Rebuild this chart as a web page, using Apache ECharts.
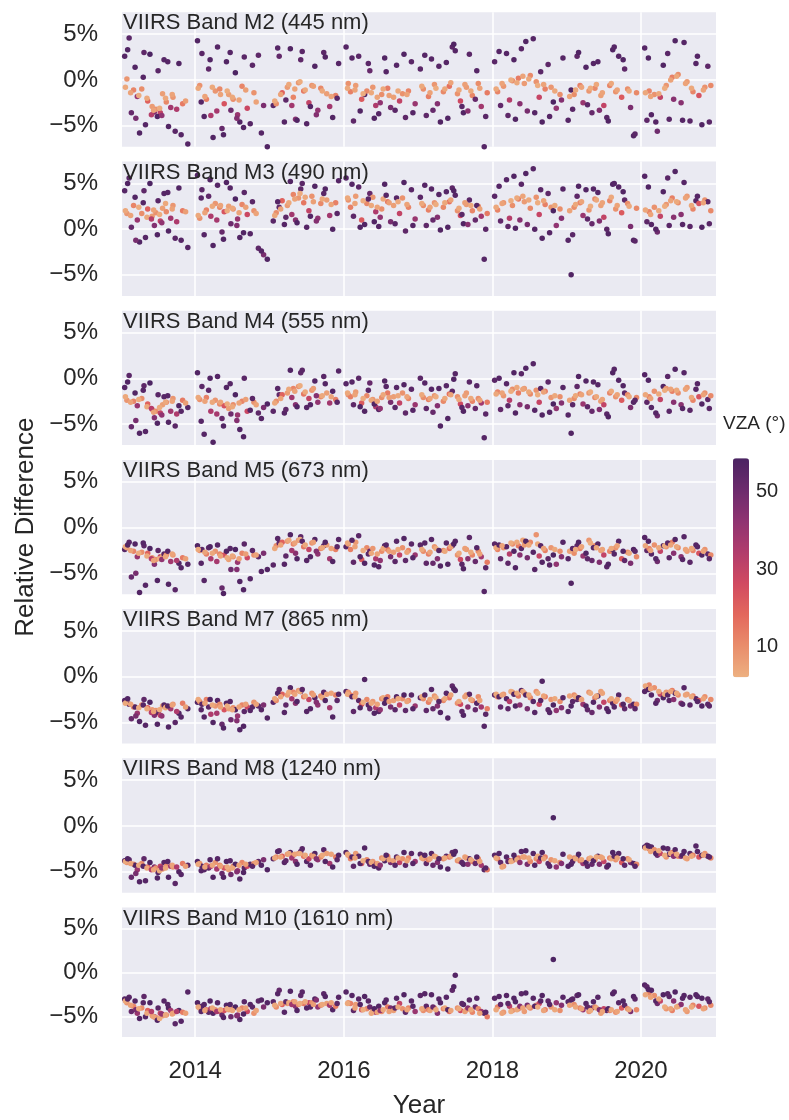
<!DOCTYPE html>
<html><head><meta charset="utf-8">
<script src="https://cdn.jsdelivr.net/npm/echarts@6/dist/echarts.min.js"></script>
<style>html,body{margin:0;padding:0;background:#fff}#c{width:789px;height:1120px}</style>
</head><body><div id="c"></div>
<script>
// ---- data (decimal year, VZA in degrees, relative difference in %) ----
// first set of observations
const dateA = [
 2013.05,2013.08,2013.11,2013.14,2013.17,2013.19,2013.22,2013.25,2013.28,2013.31,2013.33,2013.36,2013.39,2013.42,2013.45,2013.47,2013.50,2013.53,2013.56,2013.58,2013.61,2013.64,2013.67,2013.70,2013.73,2013.78,2013.83,2013.90,
 2014.03,2014.06,2014.09,2014.12,2014.15,2014.18,2014.21,2014.24,2014.27,2014.30,2014.33,2014.36,2014.39,2014.42,2014.45,2014.48,2014.51,2014.54,2014.57,2014.60,2014.63,2014.66,2014.70,2014.74,2014.79,2014.85,2014.92,2014.97,
 2015.05,2015.09,2015.13,2015.17,2015.20,2015.24,2015.28,2015.32,2015.35,2015.39,2015.42,2015.46,2015.50,2015.53,2015.57,2015.61,2015.65,2015.69,2015.73,2015.77,2015.81,2015.85,2015.89,2015.93,
 2016.03,2016.06,2016.09,2016.13,2016.16,2016.20,2016.24,2016.28,2016.31,2016.35,2016.39,2016.43,2016.47,2016.51,2016.55,2016.59,2016.63,2016.67,2016.71,2016.75,2016.79,2016.83,2016.87,2016.91,2016.96,
 2017.03,2017.07,2017.11,2017.14,2017.18,2017.22,2017.26,2017.30,2017.34,2017.38,2017.42,2017.46,2017.50,2017.53,2017.57,2017.61,2017.65,2017.69,2017.73,2017.77,2017.81,2017.85,2017.89,2017.93,
 2018.03,2018.07,2018.11,2018.15,2018.19,2018.23,2018.27,2018.31,2018.35,2018.39,2018.43,2018.47,2018.51,2018.55,2018.59,2018.63,2018.67,2018.71,2018.75,2018.79,2018.82,2018.86,2018.91,2018.95,
 2019.02,2019.06,2019.10,2019.14,2019.18,2019.22,2019.26,2019.30,2019.34,2019.38,2019.42,2019.46,2019.50,2019.54,2019.58,2019.62,2019.66,2019.70,2019.74,2019.78,2019.82,2019.86,2019.90,2019.94,
 2020.05,2020.08,2020.11,2020.14,2020.18,2020.22,2020.26,2020.30,2020.34,2020.38,2020.42,2020.46,2020.50,2020.54,2020.58,2020.62,2020.66,2020.70,2020.74,2020.78,2020.82,2020.86,2020.90,2020.94
];
const vzaA = [
 56,8,55,52,12,57,40,57,10,54,56,20,58,7,45,9,55,30,6,56,11,57,38,8,55,57,14,56,
 57,9,55,56,13,54,35,57,8,56,11,52,24,57,6,50,10,58,40,57,12,55,28,56,9,54,47,57,
 55,10,53,20,56,7,57,12,44,8,54,15,56,30,9,57,42,11,55,6,38,57,13,56,
 56,9,13,54,7,55,22,57,11,52,8,35,56,10,57,14,48,6,56,30,9,54,12,55,40,
 55,10,54,13,56,8,45,57,11,56,16,54,56,9,27,57,7,55,12,52,10,38,56,14,
 55,12,53,8,56,33,10,57,14,55,7,48,11,56,9,29,57,13,54,8,58,42,10,56,
 56,57,10,54,13,40,57,8,52,11,56,6,30,55,12,57,9,56,22,54,10,47,57,11,
 56,54,12,56,9,50,30,57,8,55,13,57,10,44,56,7,55,12,56,24,57,9,54,11
];
const m2A = [
 2.6,0.1,4.6,-3.6,-1.1,1.4,-1.8,-5.8,-1.0,3.0,-4.9,-2.3,2.8,-2.9,-3.5,-3.2,1.0,-3.6,-1.5,2.2,-2.4,-5.1,-3.0,-1.9,-5.6,1.8,-2.6,-7.0,
 4.3,-0.6,2.9,-4.0,-2.1,1.2,-3.9,-6.3,-1.2,3.6,-1.0,-5.3,-2.6,2.0,-1.6,-3.3,-2.1,0.8,-3.8,-4.6,-0.7,2.5,-3.1,-4.8,-1.4,2.7,-2.8,-7.3,
 -2.8,-2.6,2.6,-1.4,-4.6,-0.8,3.4,-1.9,-4.3,-0.3,2.2,-1.2,-4.8,-2.5,-0.6,1.5,-3.3,-0.9,3.0,-1.5,-2.9,-4.1,-1.7,1.8,
 3.6,-0.4,-1.3,-4.5,-0.6,2.6,-2.1,-1.6,-1.2,1.0,-0.8,-2.8,-3.7,-1.6,2.4,-0.9,-3.0,-1.9,1.6,-2.3,-1.5,-4.1,-1.2,2.0,-2.6,
 1.2,-1.0,-3.9,-1.8,2.3,-0.5,-2.6,-4.6,-1.3,1.9,-0.7,3.6,3.2,-1.5,-2.3,-3.6,-0.8,2.8,-1.7,-2.1,-0.4,-2.9,-7.3,-1.4,
 2.0,-1.3,-2.8,-0.7,2.9,-2.2,-0.1,-4.3,0.2,3.4,-0.4,-3.4,0.5,4.5,-0.2,-1.9,-4.6,-1.0,1.7,-0.8,-2.4,-3.1,-1.6,2.4,
 -4.4,-1.1,-1.6,2.6,-0.6,-2.5,1.4,-1.2,-3.6,-0.9,2.0,-1.7,-2.8,-4.1,-0.6,3.3,-1.3,2.6,-1.9,1.2,-1.0,-3.0,-6.1,-1.4,
 3.5,-4.4,-1.2,-3.8,-1.6,-5.6,-1.9,1.6,-0.6,-4.3,0.3,4.3,0.6,-2.5,4.1,-0.2,-4.5,-1.3,1.8,-1.7,-4.9,-0.8,1.5,-0.6
];
const m3A = [
 4.2,1.7,5.6,0.2,2.6,3.5,1.0,-1.4,1.7,4.2,-0.9,2.2,5.0,1.4,0.4,1.8,3.1,0.9,2.3,3.9,1.9,-0.2,1.2,2.6,-1.0,4.5,2.0,-2.0,
 5.9,1.2,4.3,-0.6,2.1,3.6,1.4,-1.8,2.8,4.8,2.4,-0.3,1.9,5.1,2.5,0.6,2.2,3.3,1.1,-0.9,2.7,4.0,1.6,-0.5,2.0,-2.1,-2.8,-3.3,
 0.9,1.8,2.4,3.1,0.5,2.6,5.2,3.8,1.0,3.4,4.4,2.9,0.2,2.0,3.6,4.7,1.2,2.8,3.9,3.2,1.5,0.0,2.9,5.3,
 5.6,3.2,2.4,1.4,3.6,4.6,1.0,0.5,2.8,3.9,3.5,1.9,0.3,2.2,4.9,3.0,0.8,2.6,3.4,1.7,3.4,-0.2,2.4,4.3,1.1,
 3.5,2.6,0.4,2.1,4.4,2.9,1.3,-0.1,2.4,4.1,3.0,4.5,3.7,2.0,1.5,0.6,2.7,3.2,2.0,1.0,2.5,1.4,-3.3,1.7,
 3.6,2.1,0.9,2.9,5.4,1.2,2.6,0.1,3.3,4.9,3.0,0.5,2.3,6.6,3.5,1.6,-1.0,2.7,3.9,2.4,2.0,0.4,2.2,4.4,
 -1.2,-5.0,2.4,3.6,2.9,1.5,4.3,2.1,0.6,3.3,4.0,2.6,1.3,0.0,3.1,4.9,2.2,4.6,1.8,3.2,2.8,0.3,-1.2,2.3,
 5.8,0.8,1.9,0.5,2.4,-0.3,1.4,4.1,2.7,0.4,3.4,6.3,2.9,1.6,5.1,3.6,0.3,2.2,3.1,2.8,0.2,3.2,3.0,2.0
];
const m4A = [
 -1.0,-2.4,0.3,-5.3,-2.5,-1.6,-3.0,-6.0,-2.2,-0.8,-5.8,-2.8,-0.5,-3.4,-4.3,-3.6,-1.8,-3.8,-2.9,-2.0,-2.6,-4.8,-3.6,-2.2,-5.2,-3.0,-2.4,-3.2,
 0.6,-2.3,-0.9,-6.1,-2.1,-1.3,-3.6,-7.0,-2.4,0.2,-2.8,-4.4,-3.0,-1.0,-3.3,-3.9,-2.9,-1.8,-4.0,-5.6,-2.5,0.0,-3.6,-3.5,-2.6,-3.8,-3.2,-2.8,
 -3.6,-2.5,-1.8,-1.8,-3.8,-1.6,0.9,-1.1,-2.9,-0.9,0.6,-1.7,-3.2,-2.2,-1.3,-0.3,-2.6,-2.0,0.2,-1.6,-2.7,-1.4,-2.3,0.8,
 -0.6,-1.8,-2.0,-2.9,-1.5,0.0,-2.7,-3.6,-1.9,-0.5,-2.3,-3.1,-3.4,-2.1,-0.3,-1.6,-2.6,-2.0,-1.0,-2.7,-1.6,-3.8,-2.2,-1.2,-2.9,
 0.0,-2.1,-3.3,-2.3,-1.2,-1.9,-3.0,-5.2,-2.5,-0.8,-1.7,-1.4,0.5,-2.0,-2.8,-3.6,-1.6,-0.4,-2.5,-3.3,-2.2,-2.7,-6.5,-2.6,
 -0.2,-1.5,-3.4,-1.9,-0.6,-2.4,-1.2,-3.8,-1.6,0.5,-1.1,-3.1,-1.7,1.6,-1.3,-2.6,-4.0,-1.4,-0.4,-2.1,-2.8,-3.3,-2.0,-1.0,
 -4.0,-6.0,-2.2,-0.9,-1.7,-2.8,-0.3,-1.6,-3.6,-2.1,-0.7,-2.5,-2.9,-3.9,-1.6,0.6,-2.0,-0.2,-2.4,-1.6,-1.8,-3.2,-2.6,-2.1,
 0.4,-2.6,-2.0,-3.2,-1.4,-4.1,-2.3,-0.9,-1.1,-3.6,-1.4,1.0,-1.6,-2.9,0.6,-1.0,-3.5,-2.4,-1.2,-2.0,-2.8,-1.6,-2.3,-1.9
];
const m5A = [
 -2.4,-2.2,-1.6,-5.4,-2.6,-1.8,-3.2,-7.1,-2.7,-2.0,-6.3,-2.8,-2.3,-3.3,-4.0,-3.5,-2.5,-3.2,-3.1,-2.9,-3.0,-6.2,-3.7,-3.0,-6.8,-3.9,-3.3,-4.0,
 -2.0,-2.5,-2.4,-5.8,-2.9,-2.2,-3.4,-7.8,-2.6,-1.9,-2.9,-6.6,-3.0,-2.6,-3.5,-4.6,-3.2,-2.4,-3.8,-5.9,-2.8,-1.8,-3.3,-5.6,-3.0,-3.2,-2.8,-4.6,
 -4.1,-2.0,-1.7,-1.6,-4.0,-1.5,-0.8,-1.8,-2.8,-1.4,-1.0,-2.1,-3.6,-2.4,-1.7,-1.3,-2.9,-2.3,-2.0,-1.9,-3.4,-3.7,-2.4,-1.3,
 -2.1,-1.8,-2.4,-3.8,-1.6,-0.9,-3.5,-3.9,-2.2,-2.6,-2.3,-3.4,-4.3,-2.6,-2.0,-2.4,-3.2,-2.7,-1.5,-3.0,-2.2,-3.6,-2.5,-1.8,-3.0,
 -1.9,-2.6,-3.9,-2.9,-1.3,-2.1,-3.4,-4.2,-2.5,-1.7,-2.3,-2.0,-1.5,-3.0,-3.5,-4.5,-2.4,-1.1,-3.0,-3.7,-2.6,-3.2,-7.0,-3.8,
 -1.8,-2.4,-3.4,-2.2,-2.1,-2.9,-1.8,-4.4,-2.0,-2.3,-1.9,-3.3,-1.6,-2.7,-0.8,-3.1,-3.8,-2.5,-3.4,-2.2,-3.0,-4.0,-2.6,-1.6,
 -3.4,-6.1,-2.8,-2.0,-2.3,-3.1,-2.8,-1.4,-3.6,-2.0,-1.8,-2.5,-3.0,-4.3,-2.6,-2.4,-2.2,-1.5,-3.4,-3.6,-2.7,-3.9,-2.4,-3.2,
 -1.1,-2.5,-2.3,-2.9,-1.9,-3.7,-2.6,-2.0,-2.1,-3.3,-1.6,-1.3,-2.2,-3.2,-1.0,-2.6,-3.8,-2.5,-1.9,-2.8,-3.0,-2.4,-2.9,-3.0
];
const m7A = [
 -2.6,-2.8,-3.0,-4.6,-3.3,-3.3,-4.0,-4.9,-3.1,-2.5,-5.3,-3.4,-2.8,-3.6,-4.2,-3.7,-3.9,-4.2,-3.2,-3.1,-3.3,-5.5,-3.5,-3.0,-5.0,-4.0,-2.9,-3.5,
 -2.8,-2.7,-3.0,-4.4,-2.5,-3.3,-4.1,-5.0,-3.2,-2.6,-3.0,-5.2,-3.6,-2.9,-3.5,-4.7,-3.4,-3.6,-4.3,-5.8,-3.1,-3.8,-3.3,-3.7,-2.8,-3.2,-3.1,-4.5,
 -2.8,-2.6,-1.4,-1.9,-3.9,-2.0,-1.2,-1.7,-2.9,-1.5,-1.6,-2.2,-3.8,-2.5,-1.8,-2.3,-3.1,-2.1,-1.7,-1.9,-3.4,-4.4,-2.0,-1.9,
 -1.6,-1.7,-2.0,-3.8,-1.8,-2.6,-3.0,-0.3,-2.5,-3.5,-2.7,-3.4,-3.8,-2.4,-2.9,-2.2,-3.3,-2.6,-2.2,-3.1,-2.4,-3.7,-2.6,-2.0,-3.2,
 -2.3,-2.4,-3.7,-2.8,-1.4,-2.1,-3.2,-3.9,-2.6,-1.8,-2.3,-1.0,-1.5,-2.9,-3.0,-4.2,-2.0,-1.9,-2.6,-3.6,-2.2,-3.3,-5.4,-3.5,
 -2.0,-2.2,-3.3,-1.9,-2.4,-2.7,-1.7,-3.2,-2.1,-1.5,-1.8,-3.5,-2.3,-2.7,-1.6,-3.0,-0.5,-2.2,-3.6,-2.5,-3.1,-3.7,-2.7,-2.3,
 -3.8,-3.2,-2.0,-2.5,-2.4,-3.0,-3.2,-1.7,-3.9,-2.3,-2.1,-1.6,-2.8,-3.5,-2.6,-2.9,-2.7,-2.0,-3.1,-3.5,-2.5,-3.2,-3.0,-3.0,
 -1.6,-1.3,-0.9,-2.0,-1.2,-2.6,-1.9,-2.3,-1.7,-2.6,-1.5,-1.8,-2.0,-2.9,-1.2,-1.9,-3.1,-2.1,-2.4,-2.6,-3.2,-2.2,-3.0,-2.5
];
const m8A = [
 -3.8,-4.0,-3.7,-5.6,-4.2,-4.3,-4.8,-6.1,-4.1,-3.6,-6.0,-4.5,-4.0,-4.7,-4.5,-4.6,-5.1,-4.4,-4.7,-4.0,-4.4,-5.6,-4.4,-4.5,-6.3,-5.0,-4.1,-4.3,
 -3.9,-4.1,-4.4,-4.8,-4.3,-4.6,-4.4,-5.6,-4.0,-3.6,-4.3,-5.2,-4.6,-3.9,-4.8,-5.3,-4.4,-4.2,-4.9,-5.8,-4.0,-4.6,-4.4,-4.2,-4.1,-3.9,-3.7,-4.8,
 -3.6,-3.4,-2.7,-3.3,-4.0,-3.1,-2.9,-3.2,-3.9,-3.0,-2.8,-3.3,-3.9,-3.6,-3.2,-3.0,-3.7,-3.4,-2.6,-3.0,-4.1,-4.5,-3.4,-3.2,
 -2.9,-3.2,-3.6,-4.4,-3.0,-3.3,-4.1,-2.4,-3.7,-4.2,-3.9,-4.2,-4.6,-3.5,-3.8,-3.3,-4.0,-3.8,-3.4,-4.0,-3.6,-4.3,-3.5,-3.0,-3.9,
 -3.1,-3.6,-4.1,-3.7,-3.0,-3.3,-4.0,-4.5,-3.6,-3.3,-3.4,-2.9,-2.8,-3.8,-3.9,-4.2,-3.5,-3.6,-3.9,-4.1,-3.6,-4.3,-4.8,-4.8,
 -3.2,-3.6,-4.0,-4.4,-3.4,-3.8,-3.8,-3.6,-3.5,-2.8,-3.4,-4.2,-3.9,-3.0,-3.6,-3.9,-2.9,-3.4,-4.1,-3.7,0.9,-4.5,-4.0,-3.1,
 -4.4,-4.2,-3.5,-3.5,-3.8,-4.1,-4.0,-3.6,-4.2,-3.7,-3.3,-3.4,-3.9,-4.5,-3.5,-2.9,-3.7,-3.0,-4.0,-4.3,-3.6,-4.0,-4.1,-4.2,
 -2.3,-2.1,-2.5,-2.3,-2.6,-3.2,-3.0,-2.4,-3.4,-3.1,-2.9,-2.6,-3.3,-3.3,-2.8,-3.6,-3.0,-3.2,-2.2,-3.4,-3.2,-3.0,-3.3,-3.5
];
const m10A = [
 -3.0,-3.4,-2.8,-4.4,-3.8,-3.2,-4.6,-5.2,-4.0,-2.7,-5.0,-4.3,-3.4,-4.9,-5.0,-5.1,-4.0,-4.6,-4.9,-3.2,-4.8,-4.0,-4.3,-4.6,-5.8,-4.3,-4.5,-2.2,
 -3.4,-4.0,-3.8,-3.6,-4.2,-4.5,-4.1,-4.6,-4.2,-3.4,-4.4,-4.8,-4.3,-3.7,-4.2,-5.0,-4.1,-3.9,-4.8,-5.3,-4.0,-3.3,-4.4,-3.6,-4.6,-3.2,-3.9,-3.4,
 -3.3,-3.9,-2.0,-3.6,-4.5,-3.5,-2.1,-3.3,-3.8,-3.6,-2.6,-3.5,-4.0,-3.4,-3.4,-3.0,-3.9,-3.7,-2.4,-3.5,-3.7,-4.2,-3.8,-2.8,
 -2.2,-3.4,-3.5,-4.3,-3.6,-3.0,-4.2,-2.7,-4.1,-3.9,-4.4,-4.5,-3.8,-4.4,-3.4,-3.9,-4.0,-4.3,-2.9,-3.5,-4.1,-4.5,-4.0,-3.2,-4.4,
 -2.6,-4.3,-3.8,-4.2,-2.5,-4.0,-4.6,-3.4,-4.1,-2.8,-4.4,-2.0,-0.3,-4.0,-4.3,-3.6,-4.2,-3.1,-4.5,-3.9,-4.1,-4.4,-4.6,-5.0,
 -2.9,-3.9,-3.6,-4.5,-2.6,-3.8,-4.3,-3.3,-4.1,-2.4,-4.4,-3.7,-4.0,-2.9,-3.7,-3.5,-2.6,-4.2,-3.2,-3.9,1.5,-3.4,-4.3,-2.8,
 -3.3,-3.1,-3.6,-2.6,-4.0,-4.2,-3.5,-4.4,-4.0,-3.9,-2.8,-4.6,-4.1,-4.3,-4.3,-2.4,-4.5,-3.4,-4.0,-3.7,-4.1,-4.4,-2.7,-4.2,
 -1.4,-1.6,-2.3,-2.0,-2.6,-3.5,-3.2,-2.5,-4.1,-2.7,-4.3,-2.2,-3.8,-3.6,-2.6,-4.4,-2.8,-3.7,-2.5,-3.8,-2.9,-4.0,-3.0,-3.7
];
// second set of observations
const dateB = [
 2013.06,2013.09,2013.13,2013.20,2013.24,2013.30,2013.35,2013.41,2013.44,2013.49,2013.52,2013.55,2013.60,2013.63,2013.69,2013.75,2013.81,2013.87,
 2014.04,2014.08,2014.13,2014.20,2014.23,2014.29,2014.34,2014.38,2014.43,2014.47,2014.50,2014.56,2014.59,2014.65,2014.68,2014.77,2014.82,2014.89,
 2015.07,2015.11,2015.15,2015.22,2015.26,2015.30,2015.34,2015.37,2015.41,2015.44,2015.48,2015.55,2015.59,2015.63,2015.71,2015.75,2015.83,2015.91,
 2016.05,2016.11,2016.15,2016.22,2016.26,2016.33,2016.37,2016.41,2016.45,2016.49,2016.53,2016.57,2016.61,2016.69,2016.73,2016.81,2016.85,2016.93,
 2017.05,2017.09,2017.16,2017.20,2017.24,2017.28,2017.36,2017.40,2017.44,2017.48,2017.55,2017.59,2017.63,2017.67,2017.71,2017.79,2017.83,2017.91,
 2018.05,2018.09,2018.13,2018.21,2018.25,2018.29,2018.33,2018.37,2018.41,2018.45,2018.49,2018.57,2018.61,2018.65,2018.69,2018.77,2018.84,2018.93,
 2019.04,2019.08,2019.12,2019.16,2019.20,2019.28,2019.32,2019.36,2019.40,2019.44,2019.48,2019.56,2019.60,2019.64,2019.68,2019.76,2019.84,2019.92,
 2020.06,2020.10,2020.13,2020.20,2020.24,2020.32,2020.36,2020.40,2020.44,2020.48,2020.56,2020.60,2020.68,2020.76,2020.84,2020.92
];
const vzaB = [
 4,57,5,48,3,56,4,33,5,57,3,42,4,56,5,35,56,6,
 4,56,5,57,4,37,5,57,3,56,4,45,5,57,6,55,5,56,
 4,56,5,54,4,38,5,57,3,55,4,56,6,45,4,57,5,55,
 4,56,5,57,3,55,4,57,5,42,4,56,6,55,4,57,5,56,
 4,56,5,52,3,56,4,57,5,57,4,55,6,44,4,56,5,55,
 4,56,5,54,3,57,4,44,5,57,4,56,3,55,5,56,4,45,
 5,55,4,57,5,54,3,56,4,46,5,57,4,56,5,57,4,55,
 4,57,5,56,4,3,55,5,44,4,56,5,4,56,5,55
];
const m2B = [
 -0.8,3.3,-1.4,-4.2,-1.7,0.3,-2.0,-3.8,-3.3,-4.0,-3.1,-3.9,-2.0,2.0,-1.6,-3.2,-6.0,-2.3,
 -0.9,-2.4,-1.8,2.2,-0.8,-3.4,-1.6,-6.0,-1.2,3.0,-1.9,-4.2,-2.2,-5.2,-1.1,1.6,-2.4,-5.8,
 -2.3,3.5,-1.6,-2.2,-0.5,-2.8,-1.0,-4.4,-0.2,3.1,-1.1,-2.9,-0.7,-3.8,-1.2,2.5,-1.8,-2.0,
 -0.9,2.4,-1.1,-3.4,-1.5,1.8,-1.4,-4.2,-1.9,-2.5,-1.0,0.9,-1.7,-3.3,-1.2,2.8,-1.6,-3.6,
 -0.7,2.7,-1.4,-3.3,-0.9,1.5,-1.0,-4.2,-0.3,3.9,-1.1,-2.9,-0.5,-3.4,-1.2,1.0,-0.9,-4.0,
 -1.0,3.1,-0.4,-3.9,0.0,2.2,-0.3,-2.6,0.4,4.2,0.1,-3.6,-0.6,0.9,-0.5,-4.0,-1.2,-2.2,
 -1.8,-3.2,-1.1,3.0,-0.8,-2.7,-0.9,1.8,-0.5,-3.3,-1.4,-4.5,-0.4,3.6,-1.1,2.2,-1.2,-5.9,
 -1.4,2.4,-1.8,-4.6,-1.5,-0.9,2.9,0.0,-2.1,0.4,-4.4,-0.4,-0.9,2.6,-1.1,-4.6
];
const m3B = [
 2.0,5.0,1.5,-1.2,2.4,2.9,1.3,1.1,2.1,-0.6,1.6,0.7,2.8,4.0,2.2,0.8,-1.2,1.9,
 1.5,3.4,1.8,5.4,2.5,1.0,2.6,-1.1,2.0,4.5,2.3,0.4,1.8,-0.4,2.4,3.0,1.7,-2.4,
 1.5,3.0,2.2,1.3,2.9,1.6,3.3,0.7,3.9,5.0,3.5,1.4,3.0,0.9,3.3,4.4,2.7,1.7,
 3.4,4.9,2.8,0.2,3.1,3.3,2.6,0.8,2.4,1.3,3.3,3.7,2.9,0.6,3.0,5.1,2.7,0.4,
 2.8,4.8,2.4,1.0,2.7,3.8,2.9,0.2,3.2,4.2,2.3,1.6,2.9,0.5,2.6,2.6,2.2,0.0,
 2.4,4.7,2.8,0.3,3.1,5.8,3.4,1.0,3.6,6.1,3.2,0.0,2.9,4.3,3.1,-0.4,2.6,1.2,
 2.0,-0.6,2.7,4.7,3.0,1.1,2.5,4.4,3.2,0.9,2.9,-0.5,3.5,5.0,2.6,4.1,2.5,-1.3,
 2.1,4.6,1.6,0.0,2.0,2.5,5.6,3.1,1.3,3.0,0.5,3.4,2.6,3.6,2.9,0.6
];
const m4B = [
 -2.0,-0.4,-2.6,-4.6,-2.3,-1.3,-3.1,-3.3,-3.7,-4.9,-3.2,-4.0,-2.6,-1.9,-2.5,-3.9,-3.6,-2.7,
 -2.1,-4.7,-2.5,0.0,-2.6,-3.9,-2.6,-5.2,-2.8,-0.6,-3.1,-4.6,-2.7,-6.4,-2.3,-2.2,-2.9,-4.4,
 -2.7,-1.1,-2.2,-3.4,-1.2,-2.1,-1.4,-3.1,-0.8,0.9,-1.5,-2.9,-1.1,-1.9,-1.9,-0.6,-2.0,-2.6,
 -1.6,-0.4,-1.8,-3.1,-2.2,-1.3,-2.4,-2.8,-2.5,-3.3,-1.8,-0.9,-2.1,-3.2,-1.9,-0.7,-2.0,-3.5,
 -1.8,-0.5,-2.2,-3.7,-2.0,-1.1,-2.2,-4.4,-1.8,-0.1,-2.3,-3.2,-1.9,-3.0,-2.2,-0.8,-2.4,-3.9,
 -1.7,0.0,-1.6,-3.0,-1.4,0.6,-1.0,-2.9,-1.2,1.1,-1.5,-3.5,-1.8,-1.1,-1.5,-3.7,-1.9,-2.7,
 -2.4,-2.9,-1.9,0.2,-1.8,-3.1,-1.5,-0.4,-2.0,-3.4,-2.3,-4.2,-1.4,1.0,-1.8,-0.8,-2.0,-2.4,
 -1.8,-0.2,-2.2,-3.8,-1.7,-1.3,0.2,-1.2,-2.6,-1.3,-3.3,-1.2,-2.1,-0.6,-1.8,-3.3
];
const m5B = [
 -2.1,-1.9,-2.5,-5.0,-2.8,-1.7,-3.1,-3.4,-3.6,-5.8,-3.4,-3.5,-3.2,-2.6,-2.9,-3.6,-4.4,-3.4,
 -2.4,-3.9,-2.7,-2.1,-2.8,-3.7,-3.1,-7.2,-3.3,-2.3,-3.1,-4.6,-3.4,-6.8,-2.9,-2.5,-3.0,-4.8,
 -2.3,-1.2,-1.9,-3.1,-1.4,-2.5,-1.7,-3.4,-1.3,-1.5,-1.9,-3.2,-1.6,-2.6,-2.2,-1.6,-2.3,-2.1,
 -1.7,-1.4,-2.1,-3.2,-2.5,-2.9,-2.8,-4.1,-2.9,-3.6,-2.3,-1.9,-2.6,-3.7,-2.4,-1.2,-2.7,-3.3,
 -2.4,-1.7,-2.7,-3.9,-2.3,-2.5,-2.6,-4.0,-2.1,-1.8,-2.8,-4.0,-2.3,-3.4,-2.7,-2.2,-2.9,-4.4,
 -2.2,-1.9,-2.0,-3.9,-1.7,-2.6,-1.6,-3.0,-1.4,-1.5,-1.9,-4.6,-1.8,-2.0,-2.3,-4.1,-2.4,-3.2,
 -2.6,-2.3,-2.4,-1.6,-2.1,-3.4,-1.7,-2.2,-2.2,-3.8,-2.4,-4.0,-2.3,-2.9,-2.0,-2.6,-2.8,-2.6,
 -2.0,-1.5,-2.5,-3.4,-2.2,-2.0,-1.7,-1.9,-2.8,-2.1,-3.5,-2.4,-2.3,-2.1,-2.6,-3.4
];
const m7B = [
 -2.9,-2.4,-3.0,-4.3,-3.4,-3.1,-3.5,-3.9,-3.8,-5.2,-3.6,-4.3,-3.4,-3.2,-3.1,-3.8,-4.4,-3.3,
 -2.5,-3.6,-2.9,-2.5,-3.1,-4.0,-3.3,-5.6,-3.2,-2.7,-3.6,-4.8,-3.3,-5.4,-3.0,-3.3,-3.0,-3.6,
 -2.4,-1.8,-2.2,-3.1,-1.7,-2.4,-1.9,-2.7,-1.6,-1.4,-2.1,-3.5,-2.0,-2.8,-2.3,-2.6,-1.8,-2.6,
 -1.9,-2.2,-2.2,-3.4,-2.8,-3.1,-2.9,-4.0,-3.0,-3.6,-2.3,-2.5,-2.7,-3.6,-2.4,-2.0,-2.7,-3.5,
 -2.2,-2.0,-2.5,-3.5,-2.3,-2.7,-2.4,-4.5,-2.0,-1.3,-2.7,-3.8,-2.2,-3.3,-2.5,-2.9,-2.6,-4.1,
 -1.9,-2.2,-2.0,-3.5,-1.6,-1.9,-1.8,-3.1,-1.6,-2.0,-2.0,-3.9,-1.8,-2.6,-2.1,-3.9,-2.4,-3.4,
 -2.1,-2.7,-2.2,-2.3,-2.5,-3.6,-1.8,-2.8,-2.1,-3.3,-1.8,-3.8,-2.4,-3.3,-2.5,-3.0,-2.6,-3.5,
 -1.0,-1.4,-1.3,-2.9,-1.6,-1.9,-2.0,-1.6,-2.5,-1.8,-3.0,-2.0,-2.2,-2.7,-2.4,-3.2
];
const m8B = [
 -3.9,-3.6,-4.1,-5.2,-4.3,-4.4,-4.6,-4.8,-4.8,-5.7,-4.9,-4.6,-4.6,-3.9,-4.3,-4.5,-5.3,-4.4,
 -4.2,-4.9,-4.5,-3.7,-4.3,-4.7,-4.4,-5.6,-4.5,-3.8,-4.6,-5.0,-4.3,-5.1,-4.2,-4.4,-4.0,-4.3,
 -3.5,-2.8,-3.4,-3.8,-3.0,-3.5,-3.1,-4.2,-3.0,-2.5,-3.2,-4.3,-3.3,-3.6,-3.2,-3.9,-3.1,-3.7,
 -3.1,-3.4,-3.5,-4.1,-3.8,-3.9,-4.0,-4.4,-4.1,-4.3,-3.6,-3.2,-3.7,-4.3,-3.5,-2.9,-3.8,-4.1,
 -3.5,-3.2,-3.6,-4.3,-3.4,-3.6,-3.5,-4.7,-3.3,-3.1,-3.7,-4.0,-3.4,-4.2,-3.7,-3.4,-3.9,-4.6,
 -3.5,-3.0,-4.5,-3.9,-3.9,-3.2,-3.7,-4.0,-3.4,-2.7,-3.5,-4.3,-3.3,-3.5,-3.6,-4.4,-3.8,-4.1,
 -3.4,-3.9,-3.6,-3.1,-3.7,-4.4,-3.5,-3.8,-3.4,-4.2,-3.5,-4.3,-3.6,-3.3,-3.5,-3.6,-3.7,-4.4,
 -2.4,-2.2,-2.8,-3.0,-2.7,-3.2,-2.5,-3.0,-3.3,-3.1,-3.2,-3.5,-3.3,-2.8,-3.2,-3.4
];
const m10B = [
 -3.2,-3.0,-3.7,-4.2,-4.1,-3.4,-4.6,-4.4,-5.0,-5.4,-5.2,-4.7,-4.8,-3.6,-4.7,-4.4,-5.5,-4.6,
 -3.9,-4.4,-4.3,-3.2,-4.0,-4.4,-4.2,-5.1,-4.1,-3.6,-4.3,-4.9,-4.2,-4.7,-4.0,-3.9,-4.3,-3.1,
 -3.7,-2.4,-3.5,-3.3,-3.4,-3.6,-3.3,-4.3,-3.5,-2.2,-3.3,-3.9,-3.6,-3.1,-3.6,-2.7,-3.4,-3.5,
 -3.5,-2.6,-4.0,-3.6,-4.2,-3.2,-4.6,-4.1,-4.5,-4.3,-4.2,-3.1,-4.4,-4.0,-3.9,-2.5,-4.2,-3.8,
 -4.1,-2.4,-4.3,-3.9,-4.2,-3.0,-4.0,-4.2,-4.3,-1.6,-4.1,-3.5,-4.4,-4.0,-4.2,-2.9,-4.6,-4.5,
 -4.2,-2.7,-4.6,-3.5,-4.4,-2.9,-4.2,-3.8,-4.0,-2.3,-3.9,-3.8,-3.9,-3.2,-4.3,-3.6,-4.2,-3.7,
 -3.7,-3.0,-3.9,-2.5,-4.1,-3.9,-4.3,-3.3,-4.0,-4.2,-4.4,-4.1,-4.2,-2.2,-4.4,-3.2,-4.2,-3.0,
 -2.5,-1.9,-2.8,-3.2,-3.0,-3.9,-2.4,-4.1,-3.2,-3.9,-2.9,-4.2,-3.9,-2.7,-4.1,-3.3
];
const bandTitles = ['VIIRS Band M2 (445 nm)','VIIRS Band M3 (490 nm)','VIIRS Band M4 (555 nm)','VIIRS Band M5 (673 nm)','VIIRS Band M7 (865 nm)','VIIRS Band M8 (1240 nm)','VIIRS Band M10 (1610 nm)'];
const bandA = [m2A, m3A, m4A, m5A, m7A, m8A, m10A];
const bandB = [m2B, m3B, m4B, m5B, m7B, m8B, m10B];
const xTicks = [2014, 2016, 2018, 2020];
const yTicks = [-5, 0, 5];
const cbTicks = [10, 30, 50];
const xRange = [2013.014, 2021.01];
const yRange = [-7.3, 7.4];
const vzaRange = [2.1, 58.6];
const flare = ['#EDB081','#E98D6B','#E3685C','#D14A61','#B13C6C','#8F3371','#6C2B6D','#4B2362'];

// ---- layout ----
const FONT = "'Liberation Sans', Arial, sans-serif";
const TXT = '#262626';
const L = 122, W = 594, TOP0 = 12.3, STEP = 149.2, H = 134.4;
const n = bandTitles.length;
const dates = dateA.concat(dateB), vzas = vzaA.concat(vzaB);
const grid = [], xAxis = [], yAxis = [], series = [], title = [];
for (let i = 0; i < n; i++) {
  const top = TOP0 + STEP * i;
  const vals = bandA[i].concat(bandB[i]);
  grid.push({left: L, top: top, width: W, height: H, show: true, backgroundColor: '#EAEAF2', borderWidth: 0});
  xAxis.push({
    type: 'value', gridIndex: i, min: xRange[0], max: xRange[1],
    axisLine: {show: false}, axisTick: {show: false, customValues: xTicks},
    axisLabel: {show: i === n - 1, customValues: xTicks, fontSize: 24, color: TXT, fontFamily: FONT, margin: 22,
      formatter: v => String(Math.round(v))},
    splitLine: {show: true, lineStyle: {color: '#ffffff', width: 1.5}},
    name: i === n - 1 ? 'Year' : '', nameLocation: 'middle', nameGap: 56,
    nameTextStyle: {fontSize: 26, color: TXT, fontFamily: FONT}
  });
  yAxis.push({
    type: 'value', gridIndex: i, min: yRange[0], max: yRange[1],
    axisLine: {show: false}, axisTick: {show: false, customValues: yTicks},
    axisLabel: {customValues: yTicks, fontSize: 24, color: TXT, fontFamily: FONT, margin: 24,
      formatter: v => (v < 0 ? '\u2212' : '') + Math.abs(v) + '%'},
    splitLine: {show: true, lineStyle: {color: '#ffffff', width: 1.5}},
    name: i === 3 ? 'Relative Difference' : '', nameLocation: 'middle', nameGap: 80,
    nameTextStyle: {fontSize: 26, color: TXT, fontFamily: FONT}
  });
  series.push({
    type: 'scatter', xAxisIndex: i, yAxisIndex: i, symbolSize: 5.5,
    itemStyle: {opacity: 1},
    data: dates.map((t, k) => [t, vals[k], vzas[k]])
  });
  title.push({text: bandTitles[i], left: L + 1, top: top, padding: 0,
    textStyle: {fontSize: 22, fontWeight: 'normal', color: TXT, fontFamily: FONT}});
}
// colorbar tick axis
grid.push({left: 733, top: 458.3, width: 16, height: 219, show: false});
xAxis.push({type: 'value', gridIndex: n, show: false});
yAxis.push({type: 'value', gridIndex: n, position: 'right', min: vzaRange[0], max: vzaRange[1],
  axisLine: {show: false}, axisTick: {show: false, customValues: cbTicks}, splitLine: {show: false},
  axisLabel: {customValues: cbTicks, fontSize: 20, color: TXT, fontFamily: FONT, margin: 7}});
title.push({text: 'VZA (°)', left: 723, top: 414, padding: 0,
  textStyle: {fontSize: 19, fontWeight: 'normal', color: TXT, fontFamily: FONT}});

const chart = echarts.init(document.getElementById('c'), null, {renderer: 'canvas'});
chart.setOption({
  animation: false,
  backgroundColor: '#ffffff',
  title, grid, xAxis, yAxis, series,
  visualMap: {
    type: 'continuous', min: vzaRange[0], max: vzaRange[1], dimension: 2,
    seriesIndex: series.map((s, i) => i), calculable: false, text: null, showLabel: false,
    left: 733, top: 458.3, itemWidth: 16, itemHeight: 219, padding: 0,
    inRange: {color: flare}, hoverLink: false
  }
});
</script></body></html>
